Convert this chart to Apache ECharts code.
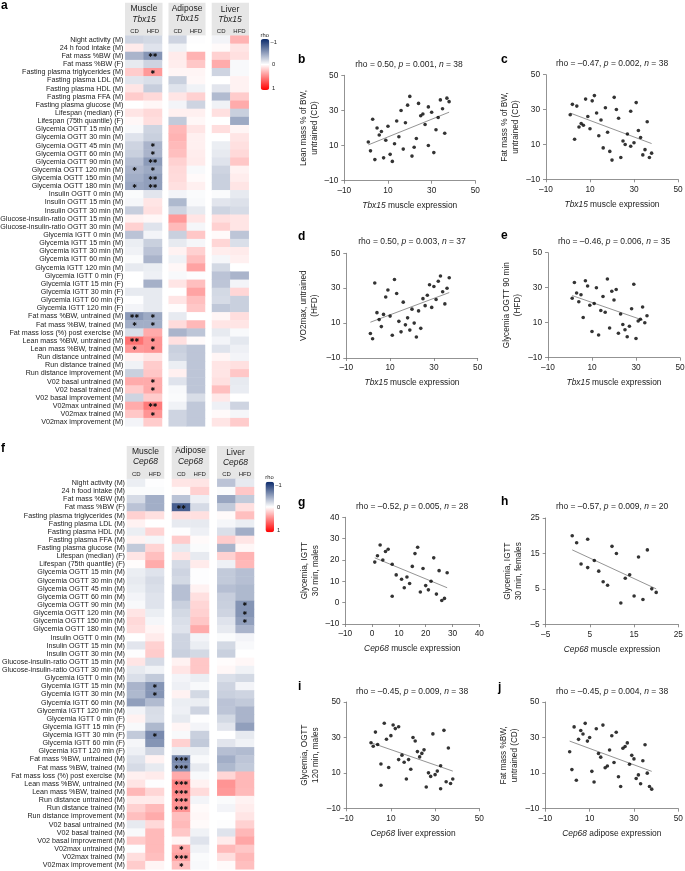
<!DOCTYPE html>
<html><head><meta charset="utf-8">
<style>html,body{margin:0;padding:0;background:#fff}#c{width:685px;height:871px}</style>
<script src="https://cdn.jsdelivr.net/npm/echarts@6/dist/echarts.min.js"></script>
</head><body><div id="c"></div>
<script>
const rowLabels = ["Night activity (M)","24 h food intake (M)","Fat mass %BW (M)","Fat mass %BW (F)","Fasting plasma triglycerides (M)","Fasting plasma LDL (M)","Fasting plasma HDL (M)","Fasting plasma FFA (M)","Fasting plasma glucose (M)","Lifespan (median) (F)","Lifespan (75th quantile) (F)","Glycemia OGTT 15 min (M)","Glycemia OGTT 30 min (M)","Glycemia OGTT 45 min (M)","Glycemia OGTT 60 min (M)","Glycemia OGTT 90 min (M)","Glycemia OGTT 120 min (M)","Glycemia OGTT 150 min (M)","Glycemia OGTT 180 min (M)","Insulin OGTT 0 min (M)","Insulin OGTT 15 min (M)","Insulin OGTT 30 min (M)","Glucose-insulin-ratio OGTT 15 min (M)","Glucose-insulin-ratio OGTT 30 min (M)","Glycemia IGTT 0 min (M)","Glycemia IGTT 15 min (M)","Glycemia IGTT 30 min (M)","Glycemia IGTT 60 min (M)","Glycemia IGTT 120 min (M)","Glycemia IGTT 0 min (F)","Glycemia IGTT 15 min (F)","Glycemia IGTT 30 min (F)","Glycemia IGTT 60 min (F)","Glycemia IGTT 120 min (F)","Fat mass %BW, untrained (M)","Fat mass %BW, trained (M)","Fat mass loss (%) post exercise (M)","Lean mass %BW, untrained (M)","Lean mass %BW, trained (M)","Run distance untrained (M)","Run distance trained (M)","Run distance improvement (M)","V02 basal untrained (M)","V02 basal trained (M)","V02 basal improvement (M)","V02max untrained (M)","V02max trained (M)","V02max improvement (M)"];
const dietLabels = ["CD","HFD"];

const tbx15Muscle = [[-.2,-.18],[.08,-.13],[-.35,-.5],[-.1,-.2],[.2,.4],[-.12,-.15],[.1,-.23],[.2,.15],[0,.03],[.1,.15],[.03,.13],[-.03,-.2],[-.13,-.22],[-.2,-.35],[-.22,-.35],[-.3,-.47],[-.35,-.4],[-.38,-.45],[-.42,-.45],[-.02,-.12],[-.04,.1],[-.23,.12],[.05,.03],[.18,-.13],[-.28,-.05],[-.08,-.22],[-.06,-.28],[-.02,-.35],[-.1,-.08],[0,-.07],[0,-.37],[-.1,-.1],[-.01,-.1],[-.05,-.1],[-.48,-.4],[-.38,-.38],[-.15,.33],[.55,.42],[.4,.42],[.05,.1],[-.06,.2],[-.22,.22],[.33,.33],[.2,.33],[-.2,.2],[.33,.52],[.22,.42],[-.05,.2]];
const tbx15Adipose = [[-.2,-.01],[-.06,0],[.08,.3],[.07,.22],[.04,.04],[-.22,.03],[-.13,-.06],[.1,.18],[-.05,-.2],[.06,.06],[-.25,.03],[.28,.1],[.3,.06],[.27,.06],[.25,.07],[.18,.08],[.15,-.03],[.14,.02],[.12,.06],[-.05,-.02],[-.33,-.03],[-.2,-.1],[.4,.1],[.27,-.04],[-.22,.22],[-.1,-.04],[.05,.18],[-.06,.25],[.03,.36],[-.03,-.01],[.1,.25],[0,.36],[.1,.25],[.01,.22],[-.1,0],[.14,.28],[-.35,-.27],[.12,.02],[-.22,-.27],[-.2,-.27],[-.08,-.27],[.06,-.27],[-.13,-.27],[-.03,-.27],[-.02,-.16],[-.06,-.26],[-.2,-.26],[-.2,-.26]];
const tbx15Liver = [[-.05,.3],[.02,.1],[.18,.12],[.33,-.03],[-.2,-.03],[0,.05],[-.12,.05],[-.32,.2],[-.06,.33],[.12,-.22],[0,-.4],[.13,.04],[0,.1],[-.08,.12],[-.1,.15],[-.13,.22],[-.2,.05],[-.22,.07],[-.22,.1],[-.02,-.1],[-.12,-.14],[-.2,-.17],[.12,.1],[.18,.1],[.02,-.27],[.16,-.15],[.07,.08],[-.04,.06],[-.18,0],[-.28,-.35],[-.27,-.05],[-.18,.16],[-.17,-.22],[-.26,-.22],[.04,.13],[.1,.1],[-.1,-.03],[-.05,-.11],[-.13,-.07],[.04,-.05],[.1,.12],[.1,.22],[.12,-.1],[.25,-.09],[.09,0],[-.07,-.2],[.02,-.04],[.1,.2]];

const cep68Muscle = [[-.08,-.01],[-.02,-.02],[-.17,-.38],[-.28,-.38],[.18,.12],[.05,0],[-.08,.17],[.05,-.04],[-.25,.17],[.1,.25],[.01,.33],[-.08,-.13],[-.1,-.17],[-.08,-.15],[-.05,-.13],[-.03,-.13],[.1,-.08],[.15,-.04],[.13,.04],[0,.08],[-.12,.18],[-.01,.2],[.1,-.17],[-.1,-.06],[-.15,-.25],[-.35,-.5],[-.33,-.5],[-.45,-.32],[-.05,-.16],[.05,-.15],[-.03,-.33],[-.25,-.55],[-.04,-.5],[-.07,-.2],[-.13,.05],[-.17,-.1],[.06,.08],[.1,-.01],[.28,.16],[.08,.08],[.18,.27],[.25,.33],[-.1,.15],[-.03,.27],[.2,.27],[-.01,.27],[.13,.25],[.2,.04]];
const cep68Adipose = [[.1,.1],[.02,.18],[-.28,-.07],[-.75,-.17],[.12,.12],[-.1,-.1],[-.01,-.07],[.2,.02],[-.1,-.02],[.1,-.1],[-.17,.08],[-.2,-.01],[-.18,-.01],[-.3,.05],[-.3,.12],[-.22,.16],[-.18,.18],[-.15,.22],[-.13,.33],[-.2,-.05],[-.2,-.08],[-.22,-.18],[.05,.22],[.1,.22],[-.05,-.08],[-.07,-.03],[.05,-.18],[-.08,-.08],[-.07,-.2],[-.1,-.01],[.04,-.05],[-.03,-.22],[.18,-.25],[-.08,-.08],[-.55,-.03],[-.52,-.1],[.33,-.03],[.47,.05],[.45,.14],[.42,-.05],[.42,.02],[.25,.03],[.27,.02],[.22,-.06],[.04,-.13],[.33,-.06],[.37,-.02],[.25,-.03]];
const cep68Liver = [[-.28,-.1],[-.02,.22],[-.42,-.25],[-.25,.12],[.02,.25],[-.04,-.08],[-.15,-.38],[.2,.1],[-.35,.03],[.18,.3],[-.07,.28],[-.25,-.3],[-.25,-.3],[-.3,-.33],[-.23,-.33],[-.22,-.5],[-.2,-.5],[-.13,-.45],[-.1,-.35],[-.02,-.05],[-.18,-.03],[-.22,0],[.01,.03],[.03,-.06],[-.15,-.18],[-.2,-.05],[-.22,-.2],[-.28,-.25],[-.27,-.35],[-.18,-.35],[-.12,-.45],[0,-.1],[-.12,-.06],[-.3,-.32],[-.38,-.27],[-.33,-.25],[.16,.28],[.42,.28],[.4,.27],[-.02,.05],[-.05,.07],[0,.1],[-.01,.18],[-.13,.28],[.08,.35],[.27,.22],[.13,.28],[.02,.25]];

// [row, diet column, number of asterisks]
const tbx15MuscleStars = [[2,1,2],[4,1,1],[13,1,1],[14,1,1],[15,1,2],[16,0,1],[16,1,1],[17,1,2],[18,0,1],[18,1,2],[34,0,2],[34,1,1],[35,0,1],[35,1,1],[37,0,2],[37,1,1],[38,0,1],[38,1,1],[42,1,1],[43,1,1],[45,1,2],[46,1,1]];
const cep68MuscleStars = [[25,1,1],[26,1,1],[31,1,1]];
const cep68AdiposeStars = [[3,0,2],[34,0,3],[35,0,3],[37,0,3],[38,0,3],[39,0,3],[40,0,3],[45,0,1],[46,0,3],[47,0,1]];
const cep68LiverStars = [[15,1,1],[16,1,1],[17,1,1]];

const pointsB = [[1,12],[2,7],[3,25],[4,2],[5,20],[6,16],[7,18],[8,3],[9,13],[10,21],[11,5],[12,1],[13,11],[14,24],[15,15],[16,30],[17,8],[18,23],[19,33],[20,38],[21,4],[22,9],[23,14],[24,34],[25,27],[26,28],[27,22],[28.5,10],[28.5,32],[30,29],[31,6],[32,19],[33,26],[34,36],[35,31],[36,17],[37,37],[38,35]];
const trendB = [[1,10.4],[38,29]];
const pointsC = [[1,27],[2,33],[3,13],[4,32],[5,20],[6,22],[7,21],[8,36],[9,26],[10,19],[11,35],[12,38],[13,28],[14,15],[15,24],[16,8],[17,31],[18,17],[19,6],[20,1],[21,37],[22,30],[23,25],[24,2.5],[25,12],[26,10],[27,16],[28.5,29],[28.5,9],[30,11],[31,34],[32,18],[33,14],[34,4],[35,7],[36,23],[37,2.5],[38,5]];
const trendC = [[1,28],[38,10.5]];
const pointsD = [[1,4],[2,1],[3,33],[4,16],[5,12],[6,8],[7,15],[8,25],[9,29],[10,14],[11,3],[12,35],[13,27],[14,11],[15,5],[16,22],[17,9],[18,13],[19,6],[20,18],[21,10],[22,2],[23,17],[24,7],[25,24],[26,20],[27,26],[28,32],[29,19],[30,31],[31,23.5],[32,34],[33,37],[34,28],[35,21],[36,30],[37,36]];
const trendD = [[1,10.5],[37,27.5]];
const pointsE = [[1,24],[2,33],[3,27],[4,22],[5,26],[6,13],[7,34],[8,31],[9,20],[10,5],[11,21],[12,30],[13,3],[14,17],[15,25],[16,16],[17,35],[18,7],[19,28],[20,23],[21,29],[22,4],[23,15],[24,9],[25,6],[26,2],[27,8],[28,18],[29,32],[30,1],[31,11],[32,12],[33,19],[34,10],[35,14]];
const trendE = [[1,25.5],[33,11.5]];
const pointsG = [[1,19],[2,22],[3,27],[4,20],[5,24],[6,25],[7.5,3],[7.5,18],[9,13],[11,11],[12,7],[13,12],[14,9],[15,17],[16,23],[17,26],[18,5],[19,16],[20,8],[21,6],[22,10],[23,21],[24,4],[25,15],[26,1],[27,2],[28,14]];
const trendG = [[1,21],[28,7]];
const pointsH = [[1,20],[2,18],[3,12],[4.5,19],[4.5,11],[6,13],[7,10],[8,7],[9,6],[10,17],[11,15],[12,1],[13,8],[14,9],[15,3],[16,14],[17,2],[18,16],[19,5],[20,4]];
const trendH = [[1,16],[20,5]];
const pointsI = [[1,27],[2,25],[3,33],[4,26],[5.5,15],[5.5,3],[7,38],[8,29],[9,13],[10,31],[11,37],[12,35],[13.5,36],[13.5,17.5],[15,20],[16,16],[17,6.5],[18,17.5],[19,12],[20,30],[21,28],[22,22],[23,19],[24,21],[25,23],[26,2],[27,10],[28,8],[29,32],[30,9],[31,11],[32.5,14],[32.5,1],[34,34],[35,5],[36,24],[37,4],[38,6.5]];
const trendI = [[1,27],[38,11]];
const pointsJ = [[1,22],[2,12],[3,36],[4,6],[5,29],[6,34],[7,32],[8,38],[9,28],[10,30],[11,11],[12,5],[13,35],[14,21],[15,19],[16,37],[17,13],[18,14],[19,23],[20,31],[21,16],[22,33],[23,8],[24,2.5],[25,24],[26,25],[27,27],[28,15],[29,20],[30,18],[31,7],[32,9],[33,4],[34,17],[35,26],[36,10],[37,2.5],[38,1]];
const trendJ = [[1,28],[38,11]];

const FONT = '"Liberation Sans", Arial, sans-serif';
const TXT = '#222';
const AXC = '#777';
const ramp = ['#0b2a6b','#ffffff','#ff0000'];

const grids=[],xAxes=[],yAxes=[],series=[],titles=[],graphics=[];

function box(x,y,w,h){graphics.push({type:'rect',z:-10,shape:{x,y,width:w,height:h},style:{fill:'#e6e6e6'}});}
function txt(x,y,text,size,opt){graphics.push({type:'text',z:20,x,y,style:Object.assign({text,fontSize:size,fontFamily:FONT,fill:TXT,textAlign:'center',textVerticalAlign:'middle'},opt||{})});}

function heat(rows,stars,geo,showRows,top){
  const gi=grids.length;
  grids.push({left:geo.x0,top:top,width:geo.x1-geo.x0,height:geo.h,containLabel:false,outerBoundsMode:'none'});
  xAxes.push({gridIndex:gi,type:'category',data:dietLabels,position:'top',z:10,axisLine:{show:false},axisTick:{show:false},splitLine:{show:false},
    axisLabel:{fontSize:6,fontFamily:FONT,color:TXT,margin:1.5,interval:0}});
  yAxes.push({gridIndex:gi,type:'category',data:rowLabels,inverse:true,axisLine:{show:false},axisTick:{show:false},splitLine:{show:false},
    axisLabel:{show:showRows,fontSize:7.15,fontFamily:FONT,color:TXT,margin:2,interval:0}});
  const data=[];
  rows.forEach((r,ri)=>r.forEach((v,ci)=>{
    const s=(stars||[]).find(t=>t[0]===ri&&t[1]===ci);
    const it={value:[ci,ri,v]};
    if(s) it.label={show:true,formatter:'\u2731'.repeat(s[2]),fontSize:5.6,fontFamily:'"DejaVu Sans"',color:'#111'};
    data.push(it);
  }));
  series.push({type:'heatmap',xAxisIndex:gi,yAxisIndex:gi,data,label:{show:false},emphasis:{disabled:true},itemStyle:{borderWidth:0}});
}

function scatter(p){
  const gi=grids.length;
  grids.push({left:p.x0,top:p.y0,width:p.x1-p.x0,height:p.y1-p.y0,outerBoundsMode:'none'});
  const dash=v=>String(v).replace('-','\u2013');
  const rich={i:{fontStyle:'italic',fontSize:8.4,fontFamily:FONT,color:TXT}};
  xAxes.push({gridIndex:gi,type:'value',min:p.xr[0],max:p.xr[1],interval:p.xr[2],
    name:'{i|'+p.gene+'} '+p.tissue+' expression',nameLocation:'middle',nameGap:21,nameMoveOverlap:false,
    nameTextStyle:{fontSize:8.4,fontFamily:FONT,color:TXT,rich},
    axisLine:{onZero:false,lineStyle:{color:AXC,width:0.8}},axisTick:{length:3,lineStyle:{color:AXC,width:0.8}},splitLine:{show:false},
    axisLabel:{fontSize:8.3,fontFamily:FONT,color:TXT,margin:6,formatter:dash,showMinLabel:true,showMaxLabel:true}});
  yAxes.push({gridIndex:gi,type:'value',min:p.yr[0],max:p.yr[1],interval:p.yr[2],
    name:p.yname,nameLocation:'middle',nameGap:p.ygap,nameMoveOverlap:false,nameRotate:90,
    nameTextStyle:{fontSize:8.2,fontFamily:FONT,color:TXT,lineHeight:11},
    axisLine:{onZero:false,lineStyle:{color:AXC,width:0.8}},axisTick:{length:3,lineStyle:{color:AXC,width:0.8}},splitLine:{show:false},
    axisLabel:{fontSize:8.3,fontFamily:FONT,color:TXT,margin:6,formatter:dash,showMinLabel:true,showMaxLabel:true}});
  series.push({type:'line',xAxisIndex:gi,yAxisIndex:gi,data:p.trend,symbol:'none',silent:true,z:1,lineStyle:{color:'#666',width:0.7}});
  series.push({type:'scatter',xAxisIndex:gi,yAxisIndex:gi,data:p.pts,symbolSize:3.6,z:2,itemStyle:{color:'#000'},silent:true});
  titles.push({text:p.title,left:p.tx,top:p.ty,textAlign:'center',padding:0,itemGap:0,
    textStyle:{fontSize:8.5,fontWeight:'normal',fontFamily:FONT,color:TXT,rich:{i:{fontStyle:'italic',fontSize:8.5,fontFamily:FONT,color:TXT}}}});
  graphics.push({type:'text',z:20,x:p.lx,y:p.ly,style:{text:p.letter,fontSize:12,fontWeight:'bold',fontFamily:FONT,fill:'#000',textAlign:'left',textVerticalAlign:'middle'}});
}

function heatPanel(P){
  P.tissues.forEach((t,i)=>{
    const g=P.cols[i];
    box(g.bx0,P.hy0,g.bx1-g.bx0,P.hy1-P.hy0);
    txt(g.tx,P.ty[i],t.name,8.5);
    txt(g.tx,P.ty[i]+10.3,P.gene,8.5,{fontStyle:'italic'});
    heat(t.rows,t.stars,{x0:g.x0,x1:g.x1,h:P.h},i===0,P.top);
  });
}

const panelA={gene:'Tbx15',top:35.7,h:390.6,hy0:2.7,hy1:35.7,ty:[9,8.5,9.3],
  cols:[{x0:125.3,x1:162,bx0:125,bx1:162.5,tx:144},{x0:168.7,x1:205,bx0:168.5,bx1:205.5,tx:187},{x0:212,x1:248.7,bx0:211.7,bx1:249,tx:230}],
  tissues:[{name:'Muscle',rows:tbx15Muscle,stars:tbx15MuscleStars},{name:'Adipose',rows:tbx15Adipose},{name:'Liver',rows:tbx15Liver}]};
const panelF={gene:'Cep68',top:479,h:390.3,hy0:446,hy1:479,ty:[451.5,451,452.5],
  cols:[{x0:127,x1:164,bx0:126.7,bx1:164.3,tx:145.5},{x0:172,x1:209,bx0:171.7,bx1:209.3,tx:190.5},{x0:217.3,x1:254,bx0:217,bx1:254.3,tx:235.5}],
  tissues:[{name:'Muscle',rows:cep68Muscle,stars:cep68MuscleStars},{name:'Adipose',rows:cep68Adipose,stars:cep68AdiposeStars},{name:'Liver',rows:cep68Liver,stars:cep68LiverStars}]};
heatPanel(panelA);
const aSeries=series.map((s,i)=>i);
heatPanel(panelF);
const fSeries=series.map((s,i)=>i).filter(i=>!aSeries.includes(i));

const R50=[-10,50,20];
scatter({letter:'b',lx:298,ly:60,x0:344.3,x1:475.3,y0:75.3,y1:180.7,xr:R50,yr:R50,ygap:24.5,pts:pointsB,trend:trendB,gene:'Tbx15',tissue:'muscle',yname:'Lean mass % of BW,\nuntrained (CD)',title:'rho = 0.50, {i|p} = 0.001, {i|n} = 38',tx:409,ty:60});
scatter({letter:'c',lx:501,ly:60,x0:546,x1:678,y0:74.7,y1:179.3,xr:R50,yr:R50,ygap:24.5,pts:pointsC,trend:trendC,gene:'Tbx15',tissue:'muscle',yname:'Fat mass % of BW,\nuntrained (CD)',title:'rho = \u20130.47, {i|p} = 0.002, {i|n} = 38',tx:612,ty:59.5});
scatter({letter:'d',lx:298,ly:237,x0:346.3,x1:477.7,y0:253.3,y1:358,xr:R50,yr:R50,ygap:26,pts:pointsD,trend:trendD,gene:'Tbx15',tissue:'muscle',yname:'VO2max, untrained\n(HFD)',title:'rho = 0.50, {i|p} = 0.003, {i|n} = 37',tx:412,ty:237.5});
scatter({letter:'e',lx:501,ly:236,x0:548,x1:680,y0:252.7,y1:357.7,xr:R50,yr:R50,ygap:25,pts:pointsE,trend:trendE,gene:'Tbx15',tissue:'muscle',yname:'Glycemia OGTT 90 min\n(HFD)',title:'rho = \u20130.46, {i|p} = 0.006, {i|n} = 35',tx:614,ty:237.5});
scatter({letter:'g',lx:298,ly:503,x0:345.3,x1:479.3,y0:517.3,y1:624,xr:[-10,40,10],yr:[-10,40,10],ygap:24.5,pts:pointsG,trend:trendG,gene:'Cep68',tissue:'muscle',yname:'Glycemia, IGTT\n30 min, males',title:'rho = \u20130.52, {i|p} = 0.005, {i|n} = 28',tx:412,ty:502});
scatter({letter:'h',lx:501,ly:502,x0:545.7,x1:678.3,y0:518,y1:624.3,xr:[-5,25,10],yr:[-5,25,10],ygap:21,pts:pointsH,trend:trendH,gene:'Cep68',tissue:'muscle',yname:'Glycemia, IGTT\n30 min, females',title:'rho = \u20130.57, {i|p} = 0.009, {i|n} = 20',tx:612,ty:502});
scatter({letter:'i',lx:298,ly:687,x0:346.7,x1:479.3,y0:702,y1:808.3,xr:R50,yr:R50,ygap:25.5,pts:pointsI,trend:trendI,gene:'Cep68',tissue:'liver',yname:'Glycemia, OGTT\n120 min, males',title:'rho = \u20130.45, {i|p} = 0.009, {i|n} = 38',tx:412,ty:687});
scatter({letter:'j',lx:498,ly:688,x0:545.3,x1:678.3,y0:702,y1:808.7,xr:R50,yr:R50,ygap:25,pts:pointsJ,trend:trendJ,gene:'Cep68',tissue:'adipose',yname:'Fat mass %BW,\nuntrained (CD)',title:'rho = \u20130.45, {i|p} = 0.004, {i|n} = 38',tx:612,ty:687});

graphics.push({type:'text',z:20,x:1,y:6,style:{text:'a',fontSize:12,fontWeight:'bold',fontFamily:FONT,fill:'#000',textVerticalAlign:'middle'}});
graphics.push({type:'text',z:20,x:1,y:449,style:{text:'f',fontSize:12,fontWeight:'bold',fontFamily:FONT,fill:'#000',textVerticalAlign:'middle'}});

function bar(seriesIndex,x,y,h){
  txt(x+4,y-4,'rho',5.8);
  [['\u20131',y+3.5],['0',y+h/2],['1',y+h-1.5]].forEach(t=>txt(x+13,t[1],t[0],5.8));
  return {type:'continuous',min:-1,max:1,seriesIndex,dimension:2,calculable:false,inverse:true,realtime:false,hoverLink:false,
    left:x,top:y,padding:0,itemWidth:8.6,itemHeight:h,inRange:{color:ramp}};
}
const vms=[bar(aSeries,260.7,39,51),bar(fSeries,265.5,481.7,50.5)];

const chart=echarts.init(document.getElementById('c'),null,{renderer:'canvas'});
chart.setOption({animation:false,backgroundColor:'#fff',textStyle:{fontFamily:FONT},tooltip:{show:false},
  title:titles,grid:grids,xAxis:xAxes,yAxis:yAxes,visualMap:vms,series,graphic:{elements:graphics}});
</script></body></html>
